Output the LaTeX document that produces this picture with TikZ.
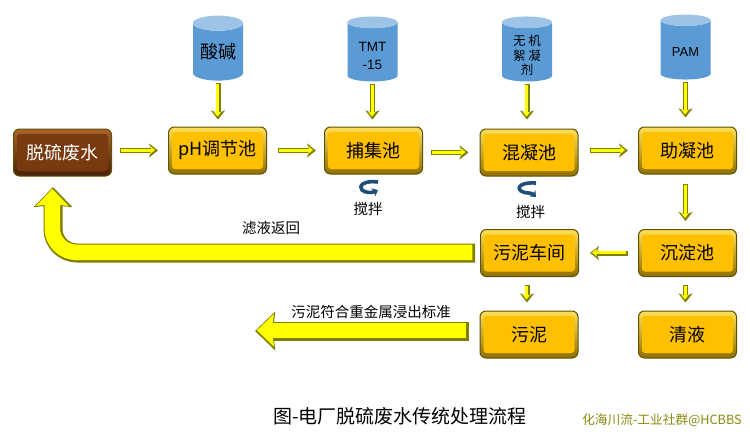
\documentclass[tikz,border=0pt]{standalone}
\usepackage{fontspec}
\setmainfont{Noto Sans CJK SC}
\newfontfamily\latinsans{Liberation Sans}
\usetikzlibrary{shapes.geometric,arrows.meta,calc}
\definecolor{gold}{HTML}{FFC000}
\definecolor{goldhi}{HTML}{FFE05A}
\definecolor{golddk}{HTML}{8F7000}
\definecolor{rim}{HTML}{5F5200}
\definecolor{brown}{HTML}{7A3A10}
\definecolor{brownhi}{HTML}{A9632E}
\definecolor{browndk}{HTML}{4A2208}
\definecolor{tankbody}{HTML}{5B9BD5}
\definecolor{tanktop}{HTML}{9DC3E6}
\definecolor{arrowdk}{HTML}{7F7F00}
\definecolor{arrowyl}{HTML}{FFFF00}
\definecolor{stirblue}{HTML}{1F4E79}
\definecolor{markgreen}{HTML}{8A8A10}
\tikzset{
  basin/.style={rounded corners=6pt,minimum width=98pt,minimum height=47pt,inner sep=0pt,
    draw=rim,line width=1pt,top color=goldhi,bottom color=golddk,font=\fontsize{18}{18}\selectfont,
    path picture={\fill[gold,rounded corners=3pt]
      ($(path picture bounding box.south west)+(3.5pt,5pt)$) rectangle
      ($(path picture bounding box.north east)+(-3.5pt,-5pt)$);}},
  source/.style={basin,top color=brownhi,bottom color=browndk,text=white,
    path picture={\fill[brown,rounded corners=3pt]
      ($(path picture bounding box.south west)+(3.5pt,5pt)$) rectangle
      ($(path picture bounding box.north east)+(-3.5pt,-5pt)$);}},
  tank/.style={shape=cylinder,shape border rotate=90,aspect=0.42,minimum width=50pt,minimum height=65pt,
    inner sep=0pt,cylinder uses custom fill,cylinder body fill=tankbody,cylinder end fill=tanktop,
    align=center,text=black},
  thinout/.style={draw=arrowdk,line width=5pt,-{Stealth[length=9pt,width=14pt,inset=2.5pt]}},
  thinin/.style={draw=arrowyl,line width=3pt,-{Stealth[length=5pt,width=8pt,inset=1.5pt]},
    transform canvas={xshift=-0.5pt,yshift=0.5pt}},
  bigout/.style={draw=arrowdk,line width=19pt,rounded corners=24pt,-{Stealth[length=20pt,width=38pt,inset=2pt]}},
  bigin/.style={draw=arrowyl,line width=15.5pt,rounded corners=24pt,-{Stealth[length=17pt,width=32pt,inset=2pt]},
    transform canvas={xshift=-0.7pt,yshift=0.7pt}},
  lab/.style={font=\fontsize{14.5}{15}\selectfont,inner sep=0pt},
  stir/.style={draw=stirblue,line width=3.6pt,-{Stealth[length=5.5pt,width=9pt]}},
}
\newcommand{\thinflow}[3]{%
  \draw[thinout,shorten <=#1pt,shorten >=#2pt] #3;
  \draw[thinin,shorten <=#1+1.5pt,shorten >=#2+2.5pt] #3;}
\newcommand{\bigflow}[3]{%
  \draw[bigout,shorten <=#1pt,shorten >=#2pt] #3;
  \draw[bigin,shorten <=#1+2pt,shorten >=#2+2.5pt] #3;}
\begin{document}
\begin{tikzpicture}[x=1pt,y=-1pt]
\useasboundingbox (0,0) rectangle (750,436);
\fill[white] (0,0) rectangle (750,436);
% basins
\node[source] (src) at (62.5,152.5) {脱硫废水};
\node[basin] (ph) at (217.5,150.5) {pH调节池};
\node[basin] (cap) at (373.5,150.5) {捕集池};
\node[basin] (coag) at (529,152.5) {混凝池};
\node[basin] (aid) at (687.5,150.5) {助凝池};
\node[basin] (shop) at (529.5,253) {污泥车间};
\node[basin] (settle) at (687.5,253) {沉淀池};
\node[basin] (sludge) at (529,334.5) {污泥};
\node[basin] (clear) at (687.5,334.5) {清液};
% tanks
\node[tank,font=\fontsize{18}{18}\selectfont] (acid) at (218,52) {酸碱};
\node[tank,font=\latinsans\fontsize{13.5}{18}\selectfont] (tmt) at (372.5,52) {\rule{0pt}{18pt}TMT\\-15};
\node[tank,font=\fontsize{12.5}{14.5}\selectfont] (coagent) at (527,52) {\rule{0pt}{17pt}无 机\\絮 凝\\剂};
\node[tank,font=\latinsans\fontsize{13}{14}\selectfont] (pam) at (685.5,50) {\rule{0pt}{13pt}PAM};
% thin arrows
\thinflow{8}{10}{(src.east |- ph.west) -- (ph.west)}
\thinflow{11}{8}{(ph.east) -- (cap.west)}
\thinflow{8}{11}{(cap.east |- coag.west) -- (coag.west)}
\thinflow{11}{10}{(coag.east |- aid.west) -- (aid.west)}
\thinflow{2}{7}{(acid.south) -- (acid.south |- ph.north)}
\thinflow{2}{7}{(tmt.south) -- (tmt.south |- cap.north)}
\thinflow{2}{9}{(coagent.south) -- (coagent.south |- coag.north)}
\thinflow{2}{9}{(pam.south) -- (pam.south |- aid.north)}
\thinflow{9}{8}{(aid.south -| pam.south) -- (settle.north -| pam.south)}
\thinflow{10}{11}{(settle.west) -- (shop.east)}
\thinflow{8}{8}{(shop.south -| coagent.south) -- (sludge.north -| coagent.south)}
\thinflow{8}{8}{(settle.south -| pam.south) -- (clear.north -| pam.south)}
% big arrows
\coordinate (returnend) at (53,187);
\coordinate (dropend) at (255,331);
\bigflow{5}{0}{(shop.west) -- (returnend |- shop.west) -- (returnend)}
\bigflow{11}{0}{(sludge.west |- dropend) -- (dropend)}
% stirring
\draw[stir] (378,182) .. controls (364,180) and (358,186) .. (362,190) .. controls (365,193) and (372,193) .. (378,190);
\draw[stir] (536,183) .. controls (522,182) and (516,187) .. (521,191) .. controls (525,194) and (531,192) .. (536,197);
\node[lab] (stira) at (368,209) {搅拌};
\node[lab] (stirb) at (530.5,212) {搅拌};
% labels
\node[lab] (ret) at (271,228) {滤液返回};
\node[lab] (std) at (371,312) {污泥符合重金属浸出标准};
\node[font=\fontsize{19}{19}\selectfont,inner sep=0pt] (title) at (400,416) {图-电厂脱硫废水传统处理流程};
\node[font=\fontsize{12.7}{13}\selectfont,text=markgreen,inner sep=0pt] (mark) at (662,420) {化海川流-工业社群@HCBBS};
\end{tikzpicture}
\end{document}
